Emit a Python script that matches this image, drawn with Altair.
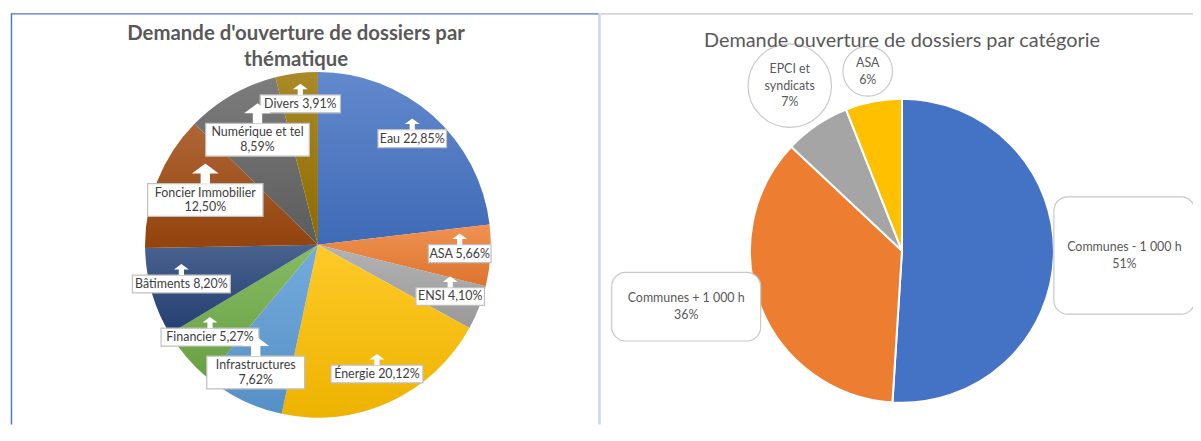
import math
import textwrap
import altair as alt
import pandas as pd

# ---------------- data ----------------
theme_names = ["Eau", "ASA", "ENSI", "Énergie", "Infrastructures", "Financier",
               "Bâtiments", "Foncier Immobilier", "Numérique et tel", "Divers"]
theme_pct = [22.85, 5.66, 4.10, 20.12, 7.62, 5.27, 8.20, 12.50, 8.59, 3.91]

cat_names = ["Communes - 1 000 h", "Communes + 1 000 h", "EPCI et syndicats", "ASA"]
cat_pct = [51, 36, 7, 6]

title_left = ["Demande d'ouverture de dossiers par", "thématique"]
title_right = "Demande ouverture de dossiers par catégorie"

# ---------------- styles / layout ----------------
theme_colors = ["#4472C4", "#ED7D31", "#A5A5A5", "#FFC000", "#5B9BD5", "#70AD47",
                "#264478", "#9E480E", "#636363", "#997300"]
cat_colors = ["#4472C4", "#ED7D31", "#A5A5A5", "#FFC000"]

W, H = 1193, 418
L_CX, L_CY, L_R = 312, 237, 174
R_CX, R_CY, R_R = 900, 243, 153
FONT = "Lato"
L_LH = 15
R_LH = 17

# right-hand callouts: shape, box width, box height, wrap width
right_box = {
    "Communes - 1 000 h": ("rect", 142, 118, 40),
    "Communes + 1 000 h": ("rect", 150, 69, 40),
    "EPCI et syndicats": ("circle", 84, 84, 9),
    "ASA": ("circle", 50, 50, 9),
}


def fr(v):
    return f"{v:.2f}".replace(".", ",") + "%"


def mix(c, other, w):
    a = [int(c[i:i + 2], 16) for i in (1, 3, 5)]
    b = [int(other[i:i + 2], 16) for i in (1, 3, 5)]
    return "#" + "".join(f"{round(x * (1 - w) + y * w):02x}" for x, y in zip(a, b))


left_df = pd.DataFrame({"name": theme_names, "value": theme_pct,
                        "order": list(range(len(theme_names)))})
left_df["lines"] = [[n, fr(v)] if len(n) > 12 else [f"{n} {fr(v)}"]
                    for n, v in zip(theme_names, theme_pct)]
left_df["nl"] = left_df["lines"].map(len)
left_df["maxlen"] = left_df["lines"].map(lambda ls: max(len(s) for s in ls))

right_df = pd.DataFrame({"name": cat_names, "value": cat_pct,
                         "order": list(range(len(cat_names)))})
right_df["lines"] = [textwrap.wrap(n, right_box[n][3]) + [f"{v}%"]
                     for n, v in zip(cat_names, cat_pct)]
right_df["nl"] = right_df["lines"].map(len)
right_df["shape"] = [right_box[n][0] for n in cat_names]
right_df["bw"] = [right_box[n][1] for n in cat_names]
right_df["bh"] = [right_box[n][2] for n in cat_names]

one = pd.DataFrame({"k": [0]})

# ---------------- left pie ----------------
left_total = sum(theme_pct)
left_cum = alt.Chart(left_df).transform_window(
    cum="sum(value)", sort=[alt.SortField("order")], frame=[None, 0]
).transform_calculate(a0="datum.cum - datum.value")

theta_left = alt.Scale(domain=[0, left_total], range=[0, 2 * math.pi])
left_arcs = []
for name, col in zip(theme_names, theme_colors):
    grad = alt.Gradient(
        gradient="linear", x1=0, y1=0, x2=0, y2=1,
        stops=[alt.GradientStop(color=mix(col, "#ffffff", 0.16), offset=0),
               alt.GradientStop(color=mix(col, "#000000", 0.07), offset=1)],
    )
    left_arcs.append(
        left_cum.transform_filter(alt.datum.name == name).mark_arc(
            radius=L_R, color=grad, stroke=None).encode(
            theta=alt.Theta("a0:Q", scale=theta_left), theta2="cum:Q",
            x=alt.value(L_CX), y=alt.value(L_CY),
        )
    )
left_pie = alt.layer(*left_arcs)

left_lab = left_cum.transform_calculate(
    mid=f"2*PI*(datum.cum - datum.value/2)/{left_total}",
    bw="datum.maxlen*5.9 + 10",
    bh="datum.nl == 1 ? 18 : 33",
    side="datum.nl == 1 ? 15 : 27",
).transform_calculate(
    lr="datum.nl == 2 && cos(datum.mid) > 0 ? 122 : 143",
).transform_calculate(
    lx=f"{L_CX} + datum.lr*sin(datum.mid)",
    ly=f"{L_CY} - datum.lr*cos(datum.mid)",
).transform_calculate(
    bx1="datum.lx - datum.bw/2", bx2="datum.lx + datum.bw/2",
    by1="datum.ly - datum.bh/2", by2="datum.ly + datum.bh/2",
    ay="datum.ly - datum.bh/2 - 0.375*datum.side",
    asz="datum.side*datum.side",
    ty=f"datum.ly - (datum.nl - 1)*{L_LH}/2",
)

left_box = left_lab.mark_rect(fill="white", stroke="#bfbfbf", strokeWidth=1.2).encode(
    x=alt.X("bx1:Q", scale=None), x2="bx2:Q",
    y=alt.Y("by1:Q", scale=None), y2="by2:Q",
)
ARROW = "M0,-0.75 L1,0 L0.35,0 L0.35,0.75 L-0.35,0.75 L-0.35,0 L-1,0 Z"
left_arrow = left_lab.mark_point(shape=ARROW, filled=True, fill="white",
                                 strokeWidth=0, opacity=1).encode(
    x=alt.X("lx:Q", scale=None), y=alt.Y("ay:Q", scale=None),
    size=alt.Size("asz:Q", scale=None),
)
left_text = left_lab.mark_text(font=FONT, fontSize=12.5, color="#404040",
                               baseline="middle", align="center", lineHeight=L_LH).encode(
    x=alt.X("lx:Q", scale=None), y=alt.Y("ty:Q", scale=None),
    text=alt.Text("lines:N"),
)

# ---------------- right pie ----------------
right_base = alt.Chart(right_df)
right_arc = right_base.mark_arc(radius=R_R, stroke="white", strokeWidth=2).encode(
    theta=alt.Theta("value:Q", stack=True),
    order=alt.Order("order:Q"),
    color=alt.Color("name:N", scale=alt.Scale(domain=cat_names, range=cat_colors),
                    legend=None),
    x=alt.value(R_CX), y=alt.value(R_CY),
)

right_lab = right_base.transform_joinaggregate(total="sum(value)").transform_window(
    cum="sum(value)", sort=[alt.SortField("order")], frame=[None, 0]
).transform_calculate(
    mid="2*PI*(datum.cum - datum.value/2)/datum.total",
).transform_calculate(
    dx="sin(datum.mid)", dy="-cos(datum.mid)",
).transform_calculate(
    lx=f"datum.shape == 'rect' ? {R_CX} + {R_R}*datum.dx + (datum.dx > 0 ? 1 : -1)*datum.bw/2"
       f" : {R_CX} + ({R_R} + 6 + datum.bw/2)*datum.dx",
    ly=f"datum.shape == 'rect' ? {R_CY} + {R_R}*datum.dy"
       f" : {R_CY} + ({R_R} + 6 + datum.bw/2)*datum.dy",
).transform_calculate(
    bx1="datum.lx - datum.bw/2", bx2="datum.lx + datum.bw/2",
    by1="datum.ly - datum.bh/2", by2="datum.ly + datum.bh/2",
    csz="datum.bw*datum.bw",
    ty=f"datum.ly - (datum.nl - 1)*{R_LH}/2",
)

right_rect = right_lab.transform_filter("datum.shape == 'rect'").mark_rect(
    fill="white", stroke="#c8c8c8", strokeWidth=1.2, cornerRadius=14).encode(
    x=alt.X("bx1:Q", scale=None), x2="bx2:Q",
    y=alt.Y("by1:Q", scale=None), y2="by2:Q",
)
right_circ = right_lab.transform_filter("datum.shape == 'circle'").mark_point(
    shape="circle", filled=True, fill="white", stroke="#c8c8c8", strokeWidth=1.2,
    opacity=1).encode(
    x=alt.X("lx:Q", scale=None), y=alt.Y("ly:Q", scale=None),
    size=alt.Size("csz:Q", scale=None),
)
right_text = right_lab.mark_text(font=FONT, fontSize=12.5, color="#595959",
                                 baseline="middle", align="center", lineHeight=R_LH).encode(
    x=alt.X("lx:Q", scale=None), y=alt.Y("ty:Q", scale=None),
    text=alt.Text("lines:N"),
)

# ---------------- titles & frames ----------------
t_left = alt.Chart(one).mark_text(font=FONT, fontSize=20.5, fontWeight="bold",
                                  color="#595959", lineHeight=26,
                                  baseline="middle", align="center").encode(
    x=alt.value(290), y=alt.value(25), text=alt.value(title_left))
t_right = alt.Chart(one).mark_text(font=FONT, fontSize=20, color="#595959",
                                   baseline="middle", align="center").encode(
    x=alt.value(900), y=alt.value(32), text=alt.value(title_right))

f1 = alt.Chart(one).mark_rule(color="#4a7bd0", strokeWidth=1.5).encode(
    x=alt.value(3), x2=alt.value(595), y=alt.value(4.5))
f2 = alt.Chart(one).mark_rule(color="#4a7bd0", strokeWidth=1.5).encode(
    x=alt.value(3.5), y=alt.value(4), y2=alt.value(H))
f3 = alt.Chart(one).mark_rule(color="#c8d5ef", strokeWidth=2.5).encode(
    x=alt.value(595.5), y=alt.value(4), y2=alt.value(H))
f4 = alt.Chart(one).mark_rule(color="#d4d4d4", strokeWidth=2).encode(
    x=alt.value(597), x2=alt.value(W), y=alt.value(4.5))

chart = alt.layer(
    f1, f2, f3, f4,
    left_pie, left_box, left_arrow, left_text,
    right_arc, right_rect, right_circ, right_text,
    t_left, t_right,
).resolve_scale(theta="independent", color="independent").properties(
    width=W, height=H, padding=0, autosize="none", background="white"
).configure_view(stroke=None)

chart.save("out.html", embed_options={"renderer": "svg", "actions": False})
